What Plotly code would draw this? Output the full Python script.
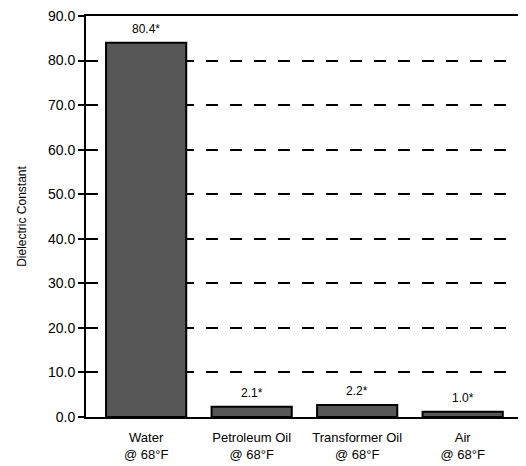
import plotly.graph_objects as go

categories = ["Water<br>@ 68°F", "Petroleum Oil<br>@ 68°F", "Transformer Oil<br>@ 68°F", "Air<br>@ 68°F"]
bar_values = [84.0, 2.3, 2.7, 1.2]
bar_labels = ["80.4*", "2.1*", "2.2*", "1.0*"]
y_ticks = [0, 10, 20, 30, 40, 50, 60, 70, 80, 90]
y_tick_labels = ["0.0", "10.0", "20.0", "30.0", "40.0", "50.0", "60.0", "70.0", "80.0", "90.0"]

FONT = "Liberation Sans, Arial, sans-serif"

fig = go.Figure()
fig.add_trace(go.Bar(
    x=list(range(len(categories))),
    y=bar_values,
    width=0.76,
    marker=dict(color="#575757", line=dict(color="black", width=2)),
    hoverinfo="skip",
))

for i, (v, t) in enumerate(zip(bar_values, bar_labels)):
    fig.add_annotation(x=i, y=v, text=t, showarrow=False, yanchor="bottom", yshift=5,
                       font=dict(family=FONT, size=12, color="black"))

fig.update_layout(
    width=518, height=458,
    margin=dict(l=78, r=0, t=8, b=49),
    plot_bgcolor="white", paper_bgcolor="white",
    showlegend=False,
    font=dict(family=FONT, size=13, color="black"),
    xaxis=dict(
        range=[-0.57, 3.6],
        tickmode="array", tickvals=list(range(len(categories))), ticktext=categories,
        showline=True, linecolor="black", linewidth=2, mirror=True,
        ticks="", showgrid=False, zeroline=False,
        tickfont=dict(family=FONT, size=13),
        ticklabelstandoff=7,
        ticklabeloverflow="allow",
    ),
    yaxis=dict(
        range=[0, 90],
        tickmode="array", tickvals=y_ticks, ticktext=y_tick_labels,
        showline=True, linecolor="black", linewidth=2,
        ticks="outside", ticklen=6, tickwidth=2, tickcolor="black",
        showgrid=True, gridcolor="black", gridwidth=2, griddash="12px,12px",
        zeroline=False,
        tickfont=dict(family=FONT, size=14),
        ticklabeloverflow="allow",
        title=dict(text="Dielectric Constant", font=dict(family=FONT, size=12), standoff=19),
    ),
)

fig.write_html("out.html")
